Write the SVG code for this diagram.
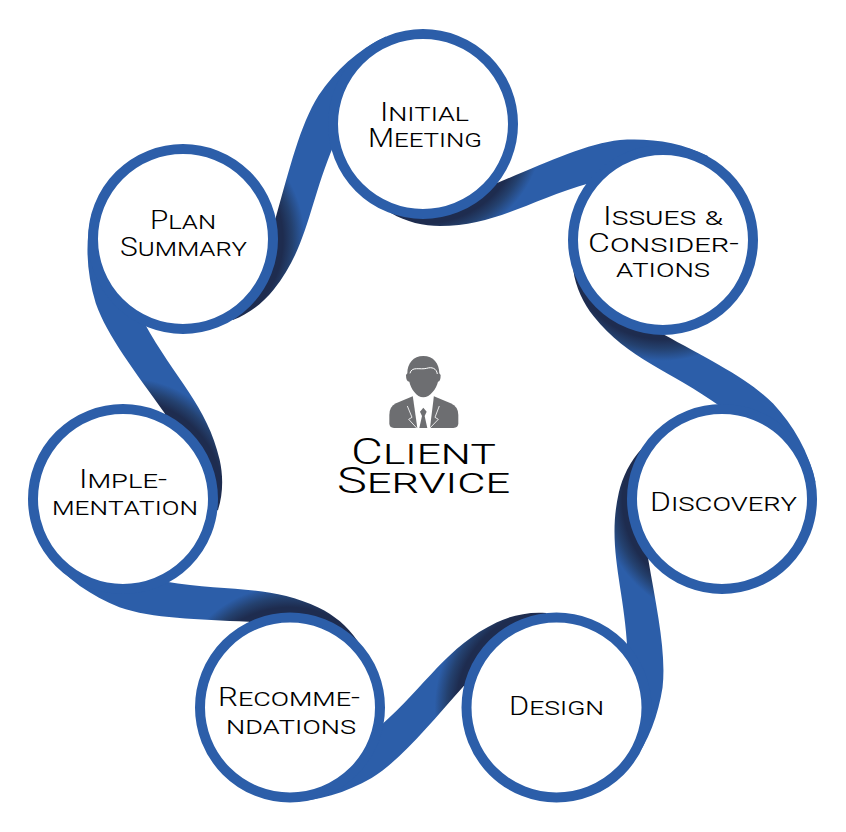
<svg xmlns="http://www.w3.org/2000/svg" xmlns:xlink="http://www.w3.org/1999/xlink" width="846" height="832" viewBox="0 0 846 832">
<style>
.ring{fill:#fff;stroke:#2c5ea9;stroke-width:10}
.t{font-family:"Roboto","Liberation Sans",Arial,sans-serif;font-weight:300;font-variant:small-caps;font-size:25px;fill:#000;stroke:none}
.big{font-size:36px}
</style>
<defs>
<radialGradient id="shade" gradientUnits="userSpaceOnUse" cx="424" cy="125" r="120">
<stop offset="0.82" stop-color="#1e2c4f"/>
<stop offset="0.9" stop-color="#24416f"/>
<stop offset="1" stop-color="#2c5ea9"/>
</radialGradient>
<path id="ribbon" fill="url(#shade)" d="M391,213 C406,222 424,226 440,226 C495,226 530,200 590,183 L640,200 L663,240 L708,156 C680,142 650,138 620,140 C585,144 545,163 497,183 L423,124 Z"/>
</defs>
<rect width="846" height="832" fill="#fff"/>
<g id="connectors">
<use href="#ribbon"/>
<use href="#ribbon" transform="rotate(51.43 423 430.7)"/>
<use href="#ribbon" transform="rotate(102.86 423 430.7)"/>
<use href="#ribbon" transform="rotate(154.29 423 430.7)"/>
<use href="#ribbon" transform="rotate(205.71 423 430.7)"/>
<use href="#ribbon" transform="rotate(257.14 423 430.7)"/>
<use href="#ribbon" transform="rotate(308.57 423 430.7)"/>
</g>
<g id="node-initial-meeting">
<circle class="ring" cx="423" cy="124" r="90"/>
<text class="t" x="380" y="121" textLength="89" lengthAdjust="spacingAndGlyphs">Initial</text>
<text class="t" x="368" y="147" textLength="114" lengthAdjust="spacingAndGlyphs">Meeting</text>
</g>
<g id="node-issues">
<circle class="ring" cx="663" cy="240" r="90"/>
<text class="t" x="603" y="225" textLength="121" lengthAdjust="spacingAndGlyphs">Issues &amp;</text>
<text class="t" x="588" y="252" textLength="151" lengthAdjust="spacingAndGlyphs">Consider-</text>
<text class="t" x="616" y="277" textLength="94" lengthAdjust="spacingAndGlyphs">ations</text>
</g>
<g id="node-discovery">
<circle class="ring" cx="722" cy="499" r="90"/>
<text class="t" x="650" y="511" textLength="147" lengthAdjust="spacingAndGlyphs">Discovery</text>
</g>
<g id="node-design">
<circle class="ring" cx="556.500" cy="707.500" r="90"/>
<text class="t" x="509" y="715" textLength="95" lengthAdjust="spacingAndGlyphs">Design</text>
</g>
<g id="node-recommendations">
<circle class="ring" cx="290" cy="707.500" r="90"/>
<text class="t" x="218" y="706" textLength="142" lengthAdjust="spacingAndGlyphs">Recomme-</text>
<text class="t" x="226" y="734" textLength="130" lengthAdjust="spacingAndGlyphs">ndations</text>
</g>
<g id="node-implementation">
<circle class="ring" cx="123" cy="499" r="90"/>
<text class="t" x="79" y="488" textLength="88" lengthAdjust="spacingAndGlyphs">Imple-</text>
<text class="t" x="52" y="515" textLength="146" lengthAdjust="spacingAndGlyphs">mentation</text>
</g>
<g id="node-plan-summary">
<circle class="ring" cx="183" cy="239" r="90"/>
<text class="t" x="150" y="229" textLength="66" lengthAdjust="spacingAndGlyphs">Plan</text>
<text class="t" x="120" y="256" textLength="127" lengthAdjust="spacingAndGlyphs">Summary</text>
</g>
<g id="node-client-service">
<g transform="translate(320 340) scale(.3333)">
<path fill="#6d6e71" d="M280,168 L228,190 Q208,200 208,225 L208,250 Q208,264 222,264 L400,264 Q415,264 415,250 L415,225 Q415,200 392,190 L340,168 Z"/>
<path fill="#fff" d="M278,166 L342,166 L330,264 L292,264 Z"/>
<path fill="#6d6e71" d="M300,215 L310,203 L320,215 L314,228 L322,264 L298,264 L306,228 Z"/>
<path fill="#6d6e71" d="M310,48 C280,48 262,70 262,100 L258,105 Q258,125 268,125 C272,145 290,172 310,172 C330,172 350,145 354,125 Q362,125 362,105 L358,100 C358,70 340,48 310,48 Z"/>
<path fill="none" stroke="#fff" stroke-width="3" d="M270,100 C275,78 300,90 320,85 C335,80 350,85 352,102"/>
<path fill="none" stroke="#fff" stroke-width="2.500" d="M262,198 L276,232 L266,238 L290,264 M358,198 L345,232 L355,238 L330,264"/>
</g>
<text class="t big" x="351" y="464" textLength="145" lengthAdjust="spacingAndGlyphs">Client</text>
<text class="t big" x="337" y="493" textLength="173" lengthAdjust="spacingAndGlyphs">Service</text>
</g>
</svg>
